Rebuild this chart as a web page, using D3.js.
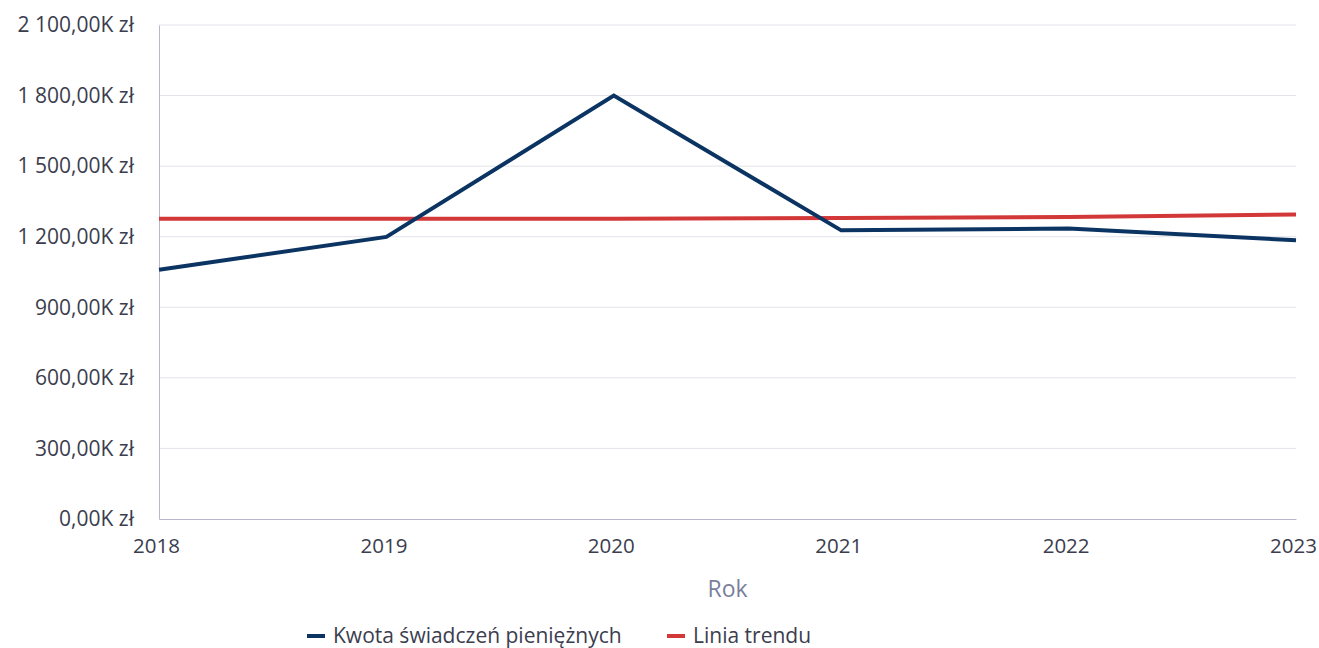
<!DOCTYPE html>
<html><head><meta charset="utf-8">
<script src="https://cdn.jsdelivr.net/npm/d3@7/dist/d3.min.js"></script>
<style>
body{margin:0;background:#fff;}
text{font-family:"Open Sans","Noto Sans",sans-serif;}
</style></head>
<body><svg id="c" width="1319" height="648"></svg>
<script>
const years = ["2018","2019","2020","2021","2022","2023"];
const amounts = [1060, 1199, 1800, 1227, 1235, 1185];
const trend = [1276, 1276, 1276, 1280, 1284, 1294];
const yTicks = [0, 300, 600, 900, 1200, 1500, 1800, 2100];
const seriesNames = ["Kwota świadczeń pieniężnych", "Linia trendu"];
const colors = ["#0b3463", "#d33838"];

const svg = d3.select("#c");
const m = {l:159, r:1296, t:25, b:519};
const x = d3.scalePoint().domain(years).range([m.l, m.r]);
const y = d3.scaleLinear().domain([0, 2100]).range([m.b, m.t]);
const fmt = v => {
  const s = d3.format(",.2f")(v).replace(/,/g, " ").replace(".", ",");
  return s + "K zł";
};

// gridlines
svg.append("g").selectAll("line").data(yTicks.filter(d=>d>0)).join("line")
  .attr("x1", m.l).attr("x2", m.r).attr("y1", d=>y(d)).attr("y2", d=>y(d))
  .attr("stroke", "#e3e3ea").attr("stroke-width", 1);

// y axis
const ya = svg.append("g").attr("transform", `translate(${m.l},0)`)
  .call(d3.axisLeft(y).tickValues(yTicks).tickFormat(fmt).tickSize(0).tickPadding(25));
ya.select(".domain").attr("stroke", "#b9b7d0");
ya.selectAll("text").attr("font-size", 21).attr("fill", "#3b3d4e");

// x axis
const xa = svg.append("g").attr("transform", `translate(0,${m.b})`)
  .call(d3.axisBottom(x).tickSize(0).tickPadding(19));
xa.select(".domain").attr("stroke", "#b9b7d0");
xa.selectAll("text").attr("font-size", 20.5).attr("fill", "#3b3d4e").attr("dx", -3);

svg.append("text").attr("x", (m.l+m.r)/2).attr("y", 597).attr("text-anchor","middle")
  .attr("font-size", 23).attr("fill", "#7b7f9c").text("Rok");

const line = d3.line().x((d,i)=>x(years[i])).y(d=>y(d));
svg.append("path").datum(trend).attr("d", line).attr("fill","none")
  .attr("stroke", colors[1]).attr("stroke-width", 4);
svg.append("path").datum(amounts).attr("d", line).attr("fill","none")
  .attr("stroke", colors[0]).attr("stroke-width", 4).attr("stroke-linejoin","miter");

// legend
const legX = [307, 667];
seriesNames.forEach((n,i)=>{
  svg.append("rect").attr("x", legX[i]).attr("y", 634).attr("width", 18).attr("height", 4).attr("fill", colors[i]);
  svg.append("text").attr("x", legX[i]+26).attr("y", 643).attr("font-size", 21)
    .attr("fill", "#3b3d4e").text(n);
});
</script></body></html>
